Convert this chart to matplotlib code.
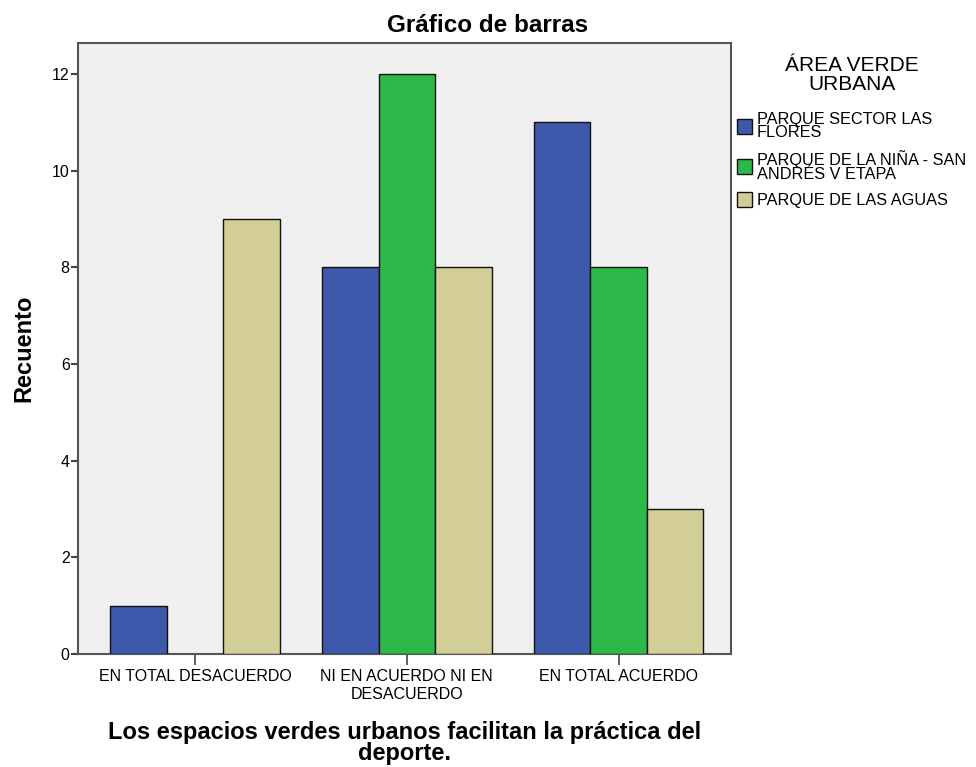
import numpy as np
import matplotlib.pyplot as plt

plt.rcParams['font.family'] = ['Liberation Sans', 'DejaVu Sans']

categorias = ['EN TOTAL DESACUERDO', 'NI EN ACUERDO NI EN\nDESACUERDO', 'EN TOTAL ACUERDO']
series = ['PARQUE SECTOR LAS\nFLORES', 'PARQUE DE LA NIÑA - SAN\nANDRÉS V ETAPA', 'PARQUE DE LAS AGUAS']
flores = [1, 8, 11]
nina = [0, 12, 8]
aguas = [9, 8, 3]
colores = ['#3E58AC', '#2DB84A', '#D3CE97']

fig = plt.figure(figsize=(9.76, 7.67), dpi=100)
ax = fig.add_axes([0.0799, 0.1473, 0.669, 0.7967])
ax.set_facecolor('#F0F0F0')

x = np.arange(len(categorias))
w = 0.267
for i, (vals, lab, col) in enumerate(zip([flores, nina, aguas], series, colores)):
    vals = np.array(vals, dtype=float)
    h = np.where(vals > 0, vals, np.nan)
    ax.bar(x + (i - 1) * w, h, width=w, color=col, edgecolor='#111111',
           linewidth=1.0, label=lab, zorder=3)

ax.set_xlim(-0.552, 2.53)
ax.set_ylim(0, 12.64)
ax.set_yticks([0, 2, 4, 6, 8, 10, 12])
ax.set_xticks(x)
ax.set_xticklabels(categorias, fontsize=11.5, linespacing=1.2)
ax.tick_params(axis='y', labelsize=11.5, length=5, width=1.5, color='#444444', pad=1)
ax.tick_params(axis='x', length=8, width=1.2, color='#444444', pad=3)
for s in ax.spines.values():
    s.set_color('#555555')
    s.set_linewidth(1.5)

ax.set_ylabel('Recuento', fontsize=17, fontweight='bold', labelpad=12)
ax.set_xlabel('Los espacios verdes urbanos facilitan la práctica del\ndeporte.',
              fontsize=17, fontweight='bold', linespacing=0.88, labelpad=14)
fig.text(0.5, 1 - 26 / 767, 'Gráfico de barras', fontsize=17.5, fontweight='bold',
         ha='center', va='center')

# legend title drawn apart so the gap under it matches
fig.text(852 / 976, 1 - 75 / 767, 'ÁREA VERDE\nURBANA', fontsize=15,
         ha='center', va='center', linespacing=1.0)
leg = ax.legend(loc='upper left', bbox_to_anchor=(1.009, 0.887), frameon=False,
                fontsize=11.7, handlelength=0.95, handleheight=1.05,
                handletextpad=0.3, labelspacing=0.62, borderpad=0,
                borderaxespad=0)
for t in leg.get_texts():
    t.set_linespacing(0.86)

fig.savefig('out.png', dpi=100, facecolor='white')
